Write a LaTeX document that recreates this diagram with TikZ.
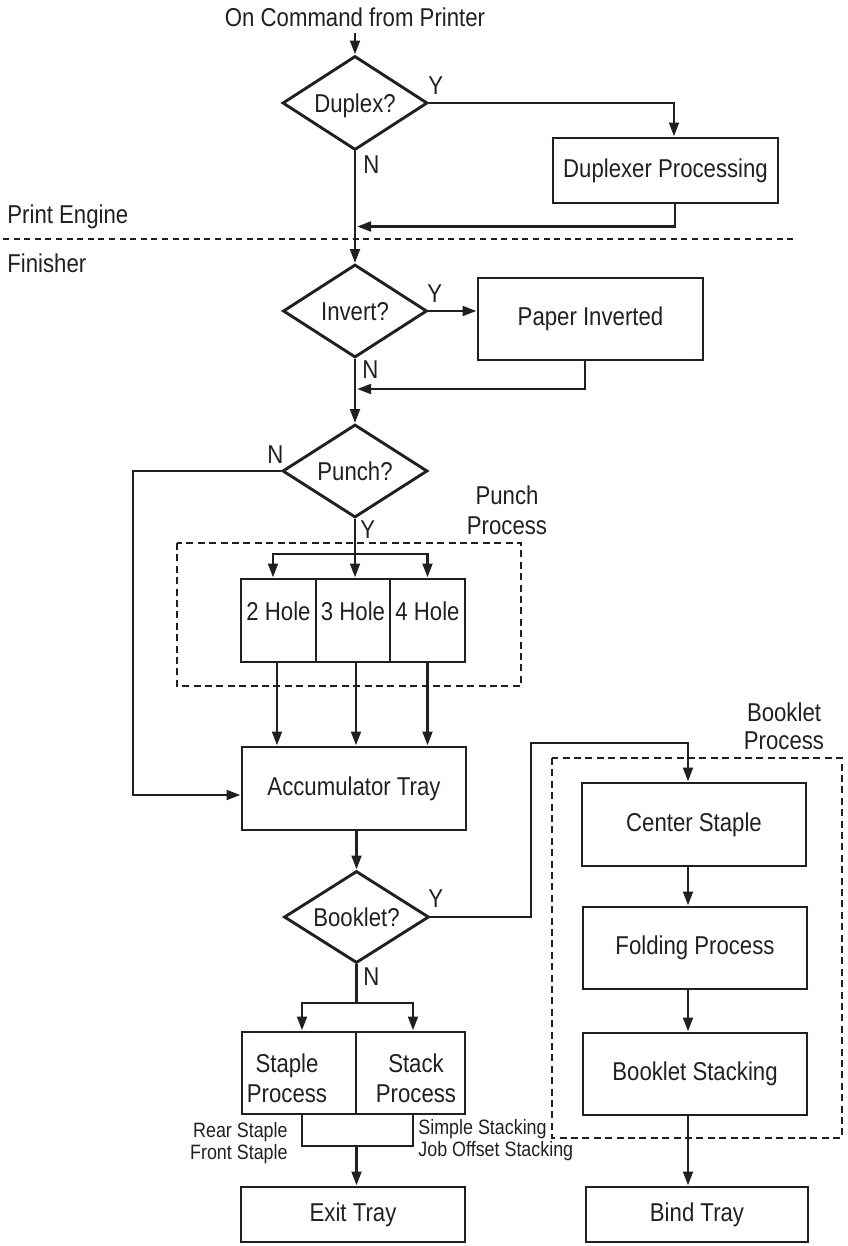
\documentclass[tikz,border=0pt]{standalone}
\usepackage{fontspec}
\setmainfont{Liberation Sans}[FakeStretch=0.86]
\usetikzlibrary{arrows.meta,shapes.geometric,calc}
\definecolor{ink}{RGB}{35,31,32}
\newcommand\mainf{\fontsize{12.9pt}{15pt}\selectfont}
\newcommand\smallf{\fontsize{10.4pt}{10.8pt}\selectfont}
\begin{document}
\begin{tikzpicture}[x=0.5pt,y=-0.5pt,
  ln/.style={line width=1.45pt, draw=ink},
  arr/.style={ln, -{Triangle[length=7pt,width=4.8pt]}},
  box/.style={draw=ink, line width=1.45pt, rectangle, inner sep=0pt, font=\mainf, text=ink},
  hole/.style={box, minimum height=41.5pt, text height=0.5em, text depth=0.5em},
  dia/.style={draw=ink, line width=1.45pt, diamond, inner sep=0pt, aspect=1.55, font=\mainf, text=ink, text depth=0pt},
  lbl/.style={inner sep=0pt, font=\mainf, text=ink},
  small/.style={inner sep=0pt, font=\smallf, text=ink},
  grp/.style={draw=ink, line width=0.7pt, dash pattern=on 3.5pt off 2.2pt},
  sep/.style={draw=ink, line width=1.3pt, dash pattern=on 3pt off 2.3pt}]
\useasboundingbox (0,0) rectangle (847,1246);

% ---- nodes ----
\node[lbl, anchor=base] (title) at (355,27) {On Command from Printer};
\node[dia, minimum width=72.5pt, minimum height=47pt] (dup) at (355,103) {Duplex?};
\node[box, minimum width=112.5pt, minimum height=32.5pt] (dupbox) at (665.5,170.5) {Duplexer Processing};
\node[lbl, anchor=base west] (pe) at (7,223) {Print Engine};
\node[lbl, anchor=base west] (fin) at (7,272) {Finisher};
\node[dia, minimum width=72pt, minimum height=46.5pt] (inv) at (355,311) {Invert?};
\node[box, minimum width=112.5pt, minimum height=41pt] (pinv) at (590.5,319) {Paper Inverted};
\node[dia, minimum width=72.5pt, minimum height=46.5pt] (punch) at (355,471) {Punch?};
\node[hole, minimum width=37.5pt] (h2) at (278.5,620.5) {2 Hole};
\node[hole, minimum width=37pt] (h3) at (353,620.5) {3 Hole};
\node[hole, minimum width=37.5pt] (h4) at (427.5,620.5) {4 Hole};
\node[lbl, align=center, anchor=north] (pp) at (507,485) {Punch\\Process};
\node[box, minimum width=112pt, minimum height=41.5pt] (acc) at (354,788.5) {Accumulator Tray};
\node[dia, minimum width=72.5pt, minimum height=46pt] (book) at (356.5,917) {Booklet?};
\node[box, minimum width=57pt, minimum height=41pt] (stp) at (299,1073) {};
\node[box, minimum width=54.5pt, minimum height=41pt] (stk) at (410.5,1073) {};
\node[lbl, align=center, anchor=north] (stpt) at (287,1053) {Staple\\Process};
\node[lbl, align=center, anchor=north] (stkt) at (416,1053) {Stack\\Process};
\node[small, align=right, anchor=north east] (stapopt) at (288,1122) {Rear Staple\\Front Staple};
\node[small, align=left, anchor=north west] (stackopt) at (418,1119) {Simple Stacking\\Job Offset Stacking};
\node[box, minimum width=112pt, minimum height=27.5pt] (exit) at (353,1214.5) {Exit Tray};
\node[lbl, align=center, anchor=north, font=\fontsize{12.9pt}{14pt}\selectfont] (bp) at (784,702) {Booklet\\Process};
\node[box, minimum width=112pt, minimum height=41.5pt] (cstap) at (694,824.5) {Center Staple};
\node[box, minimum width=112pt, minimum height=41pt] (fold) at (695,948) {Folding Process};
\node[box, minimum width=112pt, minimum height=41pt] (bstack) at (695,1074) {Booklet Stacking};
\node[box, minimum width=111pt, minimum height=27.5pt] (bind) at (697,1214.5) {Bind Tray};

% Y / N labels
\node[lbl, anchor=base west] (y1) at (428,95) {Y};
\node[lbl, anchor=base west] (n1) at (363,174) {N};
\node[lbl, anchor=base west] (y2) at (427,302) {Y};
\node[lbl, anchor=base west] (n2) at (362,378) {N};
\node[lbl, anchor=base west] (n3) at (267,463) {N};
\node[lbl, anchor=base west] (y3) at (360,538) {Y};
\node[lbl, anchor=base west] (y4) at (428,907) {Y};
\node[lbl, anchor=base west] (n4) at (363,985) {N};

% group boxes and separator
\draw[grp] (177,543) rectangle (521,686);
\draw[grp] (552,758) rectangle (842,1138);
\coordinate (sepL) at (3,239);
\coordinate (sepR) at (797,239);
\draw[sep] (sepL) -- (sepR);

% ---- connectors ----
\draw[arr] ([yshift=-2.5pt]title.south) -- (dup.north);
\draw[arr] (dup.east) -| ([xshift=4.25pt]dupbox.north);
\coordinate (j1) at (357,226.5);
\draw[arr] ([xshift=4.75pt]dupbox.south) |- (j1);
\draw[arr] (dup.south) -- (inv.north);
\draw[arr] (inv.east) -- (inv.east -| pinv.west);
\coordinate (j2) at (357,389);
\draw[arr] ([xshift=-2.75pt]pinv.south) |- (j2);
\draw[arr] (inv.south) -- (punch.north);
\coordinate (nx) at (133,795);
\draw[arr] (punch.west) -| (nx) -- (nx -| acc.west);
\coordinate (bpt) at (355,554);
\draw[ln] (punch.south) -- (bpt);
\draw[arr] (bpt) -| ([xshift=-2.75pt]h2.north);
\draw[arr] (bpt) -| (h4.north);
\draw[arr] (bpt) -- (bpt |- h3.north);
\draw[arr] ([xshift=-0.75pt]h2.south) -- ([xshift=-0.75pt]h2.south |- acc.north);
\draw[arr] ([xshift=1.5pt]h3.south) -- ([xshift=1.5pt]h3.south |- acc.north);
\draw[arr] (h4.south) -- (h4.south |- acc.north);
\draw[arr] (acc.south -| book.north) -- (book.north);
\coordinate (by) at (531,743);
\draw[arr] (book.east) -| (by) -| ([xshift=-3pt]cstap.north);
\coordinate (rc) at (688,0);
\draw[arr] (cstap.south -| rc) -- (fold.north -| rc);
\draw[arr] (fold.south -| rc) -- (bstack.north -| rc);
\draw[arr] (bstack.south -| rc) -- (bind.north -| rc);
\coordinate (bN) at (356.5,1003);
\coordinate (cL) at (302,1146);
\coordinate (cR) at (413,1146);
\coordinate (cM) at (356.5,1146);
\draw[ln] (book.south) -- (bN);
\draw[arr] (bN) -| (stp.north -| cL);
\draw[arr] (bN) -| (stk.north -| cR);
\draw[ln] (stp.south -| cL) -- (cL) -- (cR) -- (stk.south -| cR);
\draw[arr] (cM) -- (exit.north -| cM);
\end{tikzpicture}
\end{document}
